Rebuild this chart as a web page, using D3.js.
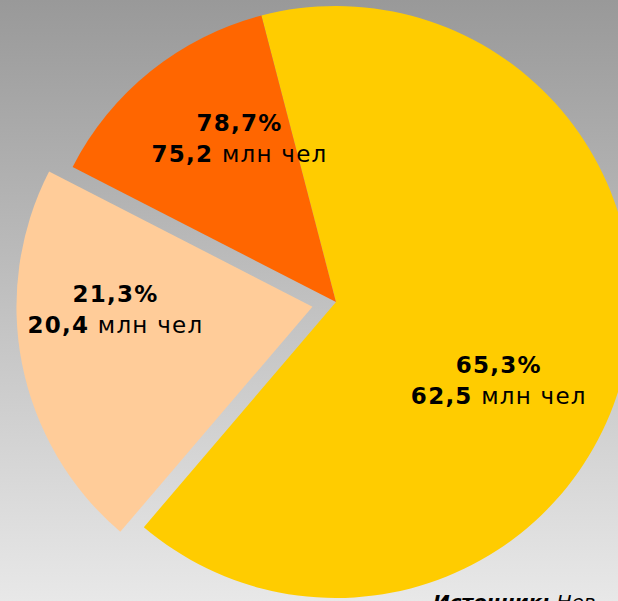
<!DOCTYPE html>
<html>
<head>
<meta charset="utf-8">
<script src="https://cdn.jsdelivr.net/npm/d3@7"></script>
<style>
  body { margin: 0; overflow: hidden; }
  text { font-family: 'DejaVu Sans', Verdana, sans-serif; }
</style>
</head>
<body>
<div id="chart"></div>
<script>
(function() {
const width = 618,
      height = 601

// slices in clockwise order
const names = ['yellow', 'peach', 'orange']
const shares = [65.3, 21.3, 13.4]
const pctLabels = ['65,3%', '21,3%', '78,7%']
const mlnLabels = ['62,5', '20,4', '75,2']
const colors = ['#ffcc00', '#ffcc99', '#ff6600']
const exploded = [false, true, false]

const svg = d3.select('#chart')
  .append('svg')
  .attr('width', width)
  .attr('height', height)

const defs = svg.append('defs')
const grad = defs.append('linearGradient')
  .attr('id', 'bg')
  .attr('x1', 0).attr('y1', 0)
  .attr('x2', 0).attr('y2', 1)
grad.append('stop').attr('offset', '0%').attr('stop-color', '#999999')
grad.append('stop').attr('offset', '100%').attr('stop-color', '#e8e8e8')

svg.append('rect')
  .attr('width', width)
  .attr('height', height)
  .attr('fill', 'url(#bg)')

const cx = 336, cy = 302
const radius = 296
const explode = 24
const labelR = 188
const labelTurn = 11 * Math.PI / 180
const labelDx = -9

const startAngle = -14.6 * Math.PI / 180

const pie = d3.pie()
  .sort(null)
  .value(function(d) { return d })
  .startAngle(startAngle)
  .endAngle(startAngle + 2 * Math.PI)

const arcs = pie(shares)

const arc = d3.arc().innerRadius(0).outerRadius(radius)

const g = svg.append('g')
  .attr('transform', 'translate(' + cx + ',' + cy + ')')

function offset(d, i) {
  if (!exploded[i]) return [0, 0]
  const a = (d.startAngle + d.endAngle) / 2
  return [Math.sin(a) * explode, -Math.cos(a) * explode]
}

const slices = g.selectAll('.slice')
  .data(arcs)
  .enter().append('g')
  .attr('class', 'slice')
  .attr('transform', function(d, i) {
    const o = offset(d, i)
    return 'translate(' + o[0] + ',' + o[1] + ')'
  })

slices.append('path')
  .attr('d', arc)
  .attr('fill', function(d, i) { return colors[i] })

const labels = slices.append('text')
  .attr('text-anchor', 'middle')
  .attr('font-size', 23)
  .attr('letter-spacing', 1.25)
  .attr('fill', '#000')
  .attr('transform', function(d) {
    const a = (d.startAngle + d.endAngle) / 2 + labelTurn
    return 'translate(' + (Math.sin(a) * labelR + labelDx) + ',' + (-Math.cos(a) * labelR) + ')'
  })

labels.append('tspan')
  .attr('x', 0)
  .attr('dy', -5)
  .attr('font-weight', 'bold')
  .text(function(d, i) { return pctLabels[i] })

const line2 = labels.append('tspan')
  .attr('x', 0)
  .attr('dy', 31)
line2.append('tspan')
  .attr('font-weight', 'bold')
  .text(function(d, i) { return mlnLabels[i] })
line2.append('tspan')
  .text(' млн чел')

const src = svg.append('text')
  .attr('x', 433)
  .attr('y', 609)
  .attr('font-size', 20)
  .attr('font-style', 'italic')
  .attr('fill', '#000')
src.append('tspan').attr('font-weight', 'bold').text('Источник:')
src.append('tspan').text(' Нев')
})()
</script>
</body>
</html>
